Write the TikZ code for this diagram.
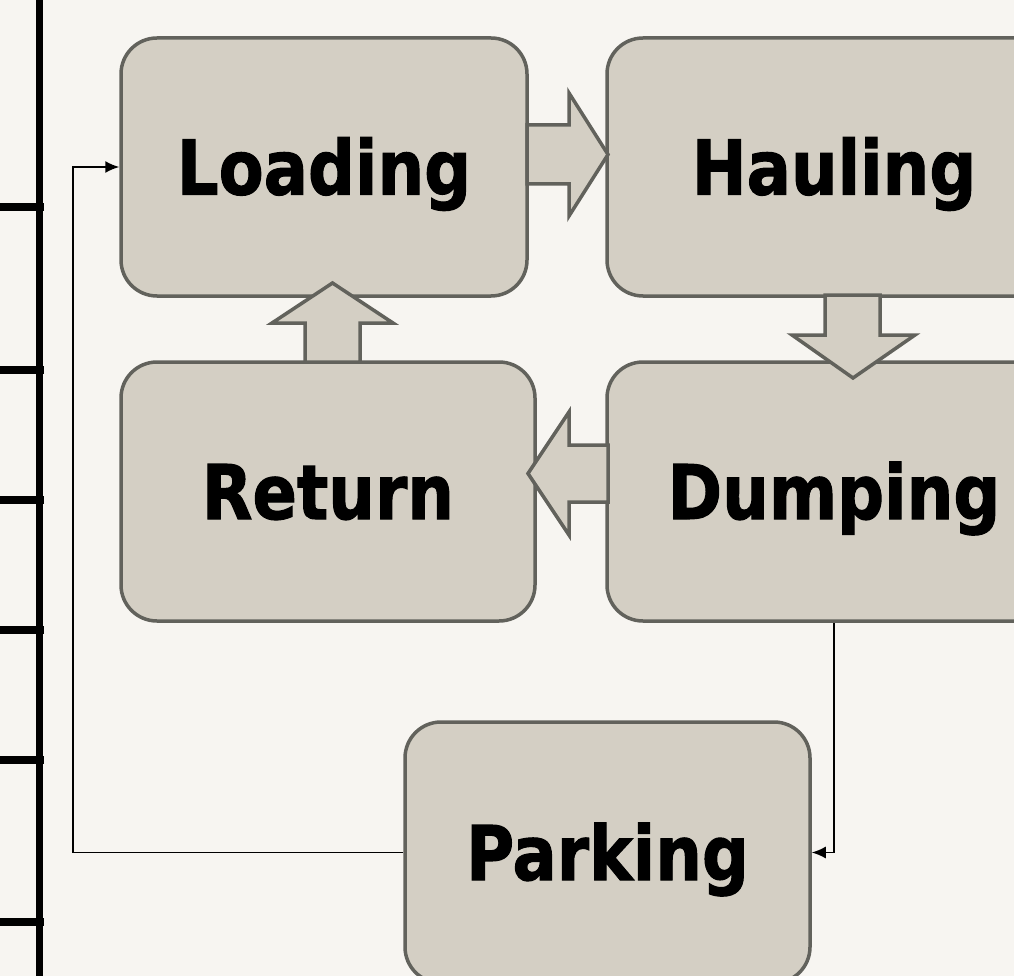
\documentclass[tikz,border=0pt]{standalone}
\usepackage{fontspec}
\setmainfont{DejaVu Sans}[BoldFeatures={FakeBold=1.5}]
\usetikzlibrary{arrows.meta}
\definecolor{bg}{HTML}{F7F5F1}
\definecolor{boxfill}{HTML}{D4CFC4}
\definecolor{boxline}{HTML}{62625C}
\newcommand{\lbl}[1]{\scalebox{0.87}[1]{#1}}
\begin{document}
\begin{tikzpicture}[x=1pt,y=-1pt,
  box/.style={draw=boxline, fill=boxfill, line width=3.5pt, rounded corners=36pt,
    font=\fontsize{75.4}{80}\selectfont\bfseries, text height=55pt, text depth=0pt, inner sep=0pt},
  blockarrow/.style={draw=boxline, fill=boxfill, line width=3.5pt, line join=miter},
  conn/.style={draw=black, line width=1.6pt, -{Latex[length=14pt,width=12pt]}},
  rail/.style={black, line width=8pt}]
\fill[bg] (0,0) rectangle (1014,976);
\useasboundingbox (0,0) rectangle (1014,976);
\clip (0,0) rectangle (1014,976);

% left rail with ticks
\draw[black, line width=7.5pt] (39.7,0) -- (39.7,976);
\foreach \yy in {207.5,370,500,630,760,922}
  \draw[rail] (0,\yy) -- (43.5,\yy);

% boxes
\node[box, minimum width=406pt, minimum height=258pt] (load) at (324,167) {\lbl{Loading}};
\node[box, minimum width=454pt, minimum height=258pt] (haul) at (834,167) {\lbl{Hauling}};
\node[box, minimum width=414pt, minimum height=259pt] (ret) at (328,491.5) {\lbl{Return}};
\node[box, minimum width=454pt, minimum height=259pt] (dump) at (834,491.5) {\lbl{Dumping}};
\node[box, minimum width=405pt, minimum height=261pt] (park) at (607.5,852.5) {\lbl{Parking}};

% block arrows
\draw[blockarrow] (527,125) -- (569,125) -- (569,93) -- (608,154.5) -- (569,216) -- (569,184) -- (527,184) -- cycle;
\draw[blockarrow] (880,295) -- (880,335) -- (915,335) -- (853,378) -- (792,335) -- (825,335) -- (825,295) -- cycle;
\draw[blockarrow] (608,445) -- (569,445) -- (569,412) -- (528,473.5) -- (569,535) -- (569,502) -- (608,502) -- cycle;
\draw[blockarrow] (305,362) -- (305,323) -- (272,323) -- (332.5,283) -- (393,323) -- (360,323) -- (360,362) -- cycle;

% connectors
\coordinate (lb) at (73,167);
\draw[conn] (park.west) -| (lb) -- (load.west);
\draw[conn] (dump.south) |- (park.east);
\end{tikzpicture}
\end{document}
